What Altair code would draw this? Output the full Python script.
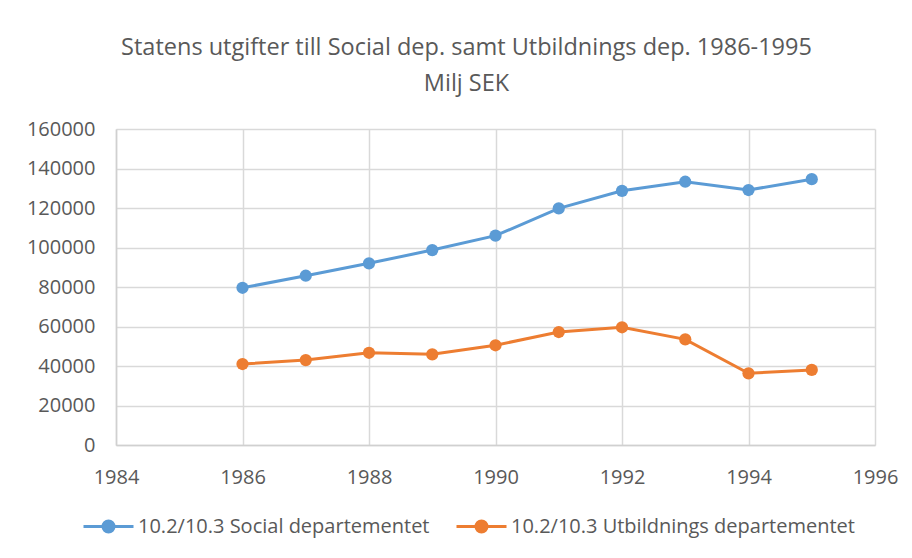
import altair as alt
import pandas as pd

years = [1986, 1987, 1988, 1989, 1990, 1991, 1992, 1993, 1994, 1995]
social = [79600, 85700, 92000, 98700, 106000, 119800, 128700, 133300, 129100, 134600]
utbildning = [41000, 43000, 46700, 45900, 50500, 57200, 59600, 53500, 36300, 38000]
series_names = ["10.2/10.3 Social departementet", "10.2/10.3 Utbildnings departementet"]
series_colors = ["#5B9BD5", "#ED7D31"]
x_ticks = [1984, 1986, 1988, 1990, 1992, 1994, 1996]
y_ticks = [0, 20000, 40000, 60000, 80000, 100000, 120000, 140000, 160000]
title_lines = ["Statens utgifter till Social dep. samt Utbildnings dep. 1986-1995", "Milj SEK"]

df = pd.concat([
    pd.DataFrame({"year": years, "value": social, "series": series_names[0]}),
    pd.DataFrame({"year": years, "value": utbildning, "series": series_names[1]}),
])

FONT = "Open Sans"
TXT = "#595959"

x = alt.X("year:Q", scale=alt.Scale(domain=[1984, 1996], nice=False, zero=False),
          axis=alt.Axis(values=x_ticks, format="d", title=None, labelFlush=False))
y = alt.Y("value:Q", scale=alt.Scale(domain=[0, 160000], nice=False),
          axis=alt.Axis(values=y_ticks, format="d", title=None))
color_scale = alt.Scale(domain=series_names, range=series_colors)


def ring(r):
    return f"M-{r},0A{r},{r},0,1,1,{r},0A{r},{r},0,1,1,-{r},0"


legend_path = "M-1,0H1 " + " ".join(ring(r) for r in (0.22, 0.16, 0.1, 0.04))

chart = alt.Chart(df).mark_line(
    strokeWidth=3,
    point=alt.OverlayMarkDef(filled=True, size=150, opacity=1),
).encode(
    x=x, y=y,
    color=alt.Color("series:N", scale=color_scale,
                    legend=alt.Legend(title=None, orient="none", direction="horizontal",
                                      legendX=-34, legendY=371,
                                      symbolType=legend_path, symbolSize=2500,
                                      symbolStrokeWidth=3, symbolOpacity=1,
                                      labelFont=FONT, labelFontSize=20, labelColor=TXT,
                                      labelOffset=3, columnPadding=20, labelLimit=0)),
).properties(
    width=759, height=316,
    padding={"left": 108, "top": 121, "right": 29, "bottom": 105},
    autosize=alt.AutoSizeParams(type="none"),
    title=alt.TitleParams(text=title_lines, font=FONT, fontSize=23.5, fontWeight="normal",
                          color=TXT, anchor="middle", dx=-29, offset=24, lineHeight=36),
).configure_view(stroke=None).configure_axis(
    labelFont=FONT, labelFontSize=20, labelColor=TXT,
    domainColor="#d0d0d0", domainWidth=1.5,
    gridColor="#d9d9d9", gridWidth=1.5,
    ticks=False, tickSize=0, labelPadding=21,
).configure_axisX(labelPadding=22)

chart.save("out.html", embed_options={"renderer": "svg", "actions": False})
